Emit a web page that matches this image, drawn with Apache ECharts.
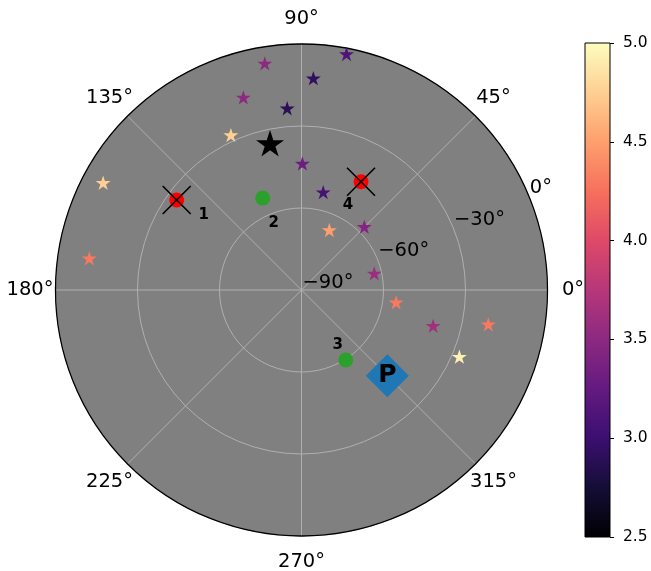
<!DOCTYPE html>
<html><head><meta charset="utf-8">
<script src="https://cdn.jsdelivr.net/npm/echarts@6/dist/echarts.min.js"></script>
<style>html,body{margin:0;padding:0;background:#fff}#c{width:651px;height:571px}</style>
</head><body><div id="c"></div>
<script>
// ---- data ----
const starRA  = [99.2, 79.2, 86.8, 106.8, 94.5, 114.5, 89.6, 77.5, 151.6, 171.5, 65.1, 45.2, 12.9, 352.6, 344.8, 349.6, 337.1];
const starDec = [-6.0, -2.1, -12.4, -16.4, -23.3, -27.7, -43.7, -53.3, -7.5, -11.5, -65.8, -57.4, -62.7, -55.1, -40.1, -20.5, -27.3];
const starMag = [3.5, 3.12, 2.93, 3.5, 2.9, 4.75, 3.3, 3.07, 4.75, 4.3, 4.5, 3.45, 3.58, 4.3, 3.62, 4.3, 4.93];
const brightRA = [102.1], brightDec = [-35.1];
const redRA = [144.2, 61.2], redDec = [-33.7, -44.8], redNames = ['1', '4'];
const greenRA = [112.9, 302.3], greenDec = [-53.5, -59.7], greenNames = ['2', '3'];
const poleRA = [315], poleDec = [-45.6], poleNames = ['P'];
const angleTicks = [0, 45, 90, 135, 180, 225, 270, 315];
const radTicks = [-90, -60, -30, 0];
const radTickLabels = ['\u221290\u00b0', '\u221260\u00b0', '\u221230\u00b0', '0\u00b0'];
const cbTicks = [2.5, 3.0, 3.5, 4.0, 4.5, 5.0];

// ---- styles ----
const FONT = 'DejaVu Sans';
const MAGMA = ['#000004','#140e36','#3b0f70','#641a80','#8c2981','#b73779','#de4968','#f7705c','#fe9f6d','#fecf92','#fcfdbf'];
const STAR = 'path://M100,0L122.45,69.1L195.1,69.1L136.3,111.8L158.8,180.9L100,138.2L41.2,180.9L63.7,111.8L4.9,69.1L77.55,69.1Z';
const XMARK = 'path://M0,0L10,10M10,0L0,10';
const redOffsets = [[27, 15], [-13, 23]];
const greenOffsets = [[11, 25], [-8, -15]];
const RLABEL_ANGLE = 22.5;
const CX = 301.5, CY = 290, R = 246;

const chart = echarts.init(document.getElementById('c'));
const pts = (ra, dec) => ra.map((a, i) => [dec[i], a]);

const hiddenAxis = {axisLine:{show:false}, axisTick:{show:false}, axisLabel:{show:false}, splitLine:{show:false}, splitArea:{show:false}};
const lbl = (extra) => Object.assign({show:true, position:'inside', formatter:'{b}', color:'#000', opacity:1, fontFamily:FONT}, extra);

chart.setOption({
  animation: false,
  textStyle: {fontFamily: FONT},
  polar: [{center:[CX, CY], radius: R}, {center:[CX, CY], radius: 271.5}, {center:[CX, CY], radius: R}],
  angleAxis: [
    {polarIndex:0, type:'value', min:0, max:360, interval:45, startAngle:0, clockwise:false, z:2,
     axisLine:{show:true, lineStyle:{color:'#000', width:1.3}}, axisTick:{show:false}, axisLabel:{show:false},
     splitLine:{show:true, lineStyle:{color:'#b0b0b0', width:1}}},
    Object.assign({polarIndex:1, type:'value', min:0, max:360, startAngle:0, clockwise:false}, hiddenAxis),
    Object.assign({polarIndex:2, type:'value', min:0, max:360, startAngle:0, clockwise:false}, hiddenAxis)
  ],
  radiusAxis: [
    {polarIndex:0, type:'value', min:-90, max:0, interval:30, z:1,
     axisLine:{show:false}, axisTick:{show:false}, axisLabel:{show:false},
     splitLine:{show:true, lineStyle:{color:'#b0b0b0', width:1}}, splitArea:{show:false}},
    Object.assign({polarIndex:1, type:'value', min:0, max:1}, hiddenAxis),
    Object.assign({polarIndex:2, type:'value', min:-90, max:0, interval:90, z:0}, hiddenAxis,
      {splitArea:{show:true, areaStyle:{color:['#808080']}}})
  ],
  grid: {left:585, top:43, width:25, height:494, show:true, z:3, borderColor:'#000', borderWidth:1,
         backgroundColor:'rgba(0,0,0,0)', containLabel:false, outerBoundsMode:'none'},
  xAxis: {type:'category', data:[''], show:false},
  yAxis: {type:'value', position:'right', min:2.5, max:5, interval:0.5,
          axisLine:{show:false}, splitLine:{show:false},
          axisTick:{show:true, inside:false, length:4, lineStyle:{color:'#000', width:1}},
          axisLabel:{color:'#000', fontSize:15.5, fontFamily:FONT, margin:13, formatter: v => v.toFixed(1)}},
  visualMap: {show:false, type:'continuous', min:2.5, max:5, dimension:2, seriesIndex:0, inRange:{color:MAGMA}},
  series: [
    {type:'scatter', coordinateSystem:'polar', polarIndex:0, symbol:STAR, symbolSize:15, symbolKeepAspect:true,
     itemStyle:{opacity:1}, data: starRA.map((a, i) => [starDec[i], a, starMag[i]]), z:3},
    {type:'scatter', coordinateSystem:'polar', polarIndex:0, symbol:STAR, symbolSize:28, symbolKeepAspect:true,
     itemStyle:{color:'#000', opacity:1}, data: pts(brightRA, brightDec), z:3},
    {type:'scatter', coordinateSystem:'polar', polarIndex:0, symbol:'circle', symbolSize:15,
     itemStyle:{color:'#ff0000', opacity:1}, z:4,
     data: redRA.map((a, i) => ({name: redNames[i], value:[redDec[i], a],
       label: lbl({offset:redOffsets[i], fontWeight:'bold', fontSize:15})}))},
    {type:'scatter', coordinateSystem:'polar', polarIndex:0, symbol:XMARK, symbolSize:28,
     itemStyle:{color:'rgba(0,0,0,0)', borderColor:'#000', borderWidth:1.6, opacity:1}, data: pts(redRA, redDec), z:5},
    {type:'scatter', coordinateSystem:'polar', polarIndex:0, symbol:'circle', symbolSize:15,
     itemStyle:{color:'#2ca02c', opacity:1}, z:4,
     data: greenRA.map((a, i) => ({name: greenNames[i], value:[greenDec[i], a],
       label: lbl({offset:greenOffsets[i], fontWeight:'bold', fontSize:15})}))},
    {type:'scatter', coordinateSystem:'polar', polarIndex:0, symbol:'diamond', symbolSize:43,
     itemStyle:{color:'#1f77b4', opacity:1}, z:4,
     data: poleRA.map((a, i) => ({name: poleNames[i], value:[poleDec[i], a]})),
     label: lbl({fontWeight:'bold', fontSize:25})},
    {type:'scatter', coordinateSystem:'polar', polarIndex:0, symbolSize:1, silent:true, z:6,
     itemStyle:{color:'rgba(0,0,0,0)'},
     data: radTicks.map((v, i) => ({name: radTickLabels[i], value:[v, RLABEL_ANGLE]})),
     label: lbl({position:[1.5, 3], align:'left', verticalAlign:'bottom', fontSize:19.5})},
    {type:'scatter', coordinateSystem:'polar', polarIndex:1, symbolSize:1, silent:true, z:6,
     itemStyle:{color:'rgba(0,0,0,0)'},
     data: angleTicks.map(a => ({name: a + '\u00b0', value:[1, a]})),
     label: lbl({fontSize:19.5})},
    {type:'bar', xAxisIndex:0, yAxisIndex:0, data:[cbTicks[cbTicks.length - 1]], barWidth:'100%', silent:true, clip:true,
     itemStyle:{color:{type:'linear', x:0, y:537, x2:0, y2:43, global:true,
       colorStops: MAGMA.map((c, i) => ({offset: i / (MAGMA.length - 1), color: c}))}}}
  ]
});
</script>
</body></html>
